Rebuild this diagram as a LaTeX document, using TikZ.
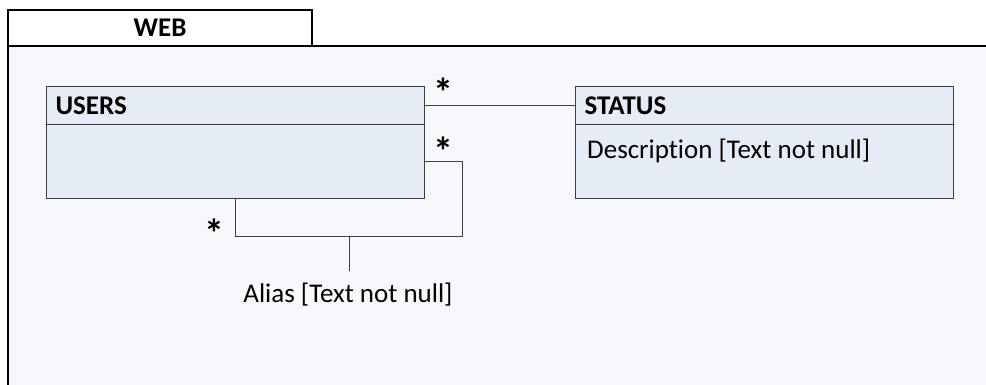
\documentclass[tikz,border=0pt]{standalone}
\usepackage{fontspec}
\setmainfont{Carlito}[Ligatures=NoCommon]
\definecolor{bgc}{HTML}{F6F8FB}
\definecolor{boxfill}{HTML}{E6ECF6}
\definecolor{boxline}{HTML}{3C3C3C}
\definecolor{linec}{HTML}{404040}
\begin{document}
\begin{tikzpicture}[x=1pt,y=-1pt,
  frame/.style={draw=black,line width=2.4pt},
  head/.style={draw=boxline,fill=boxfill,line width=1pt,minimum width=378pt,minimum height=38pt,
     anchor=north west,inner xsep=9pt,text width=360pt,align=left,font=\fontsize{27}{30}\selectfont\bfseries},
  body/.style={draw=boxline,fill=boxfill,line width=1pt,minimum width=378pt,minimum height=74pt,anchor=north west},
  txt/.style={font=\fontsize{27}{30}\selectfont},
  star/.style={font=\fontsize{40}{44}\selectfont\bfseries,inner sep=0pt},
  conn/.style={draw=linec,line width=1pt}]
\useasboundingbox (0,0) rectangle (986,384);
\fill[white] (0,0) rectangle (986,384);
\fill[bgc] (8,46) rectangle (990,390);
\draw[frame] (8,390) -- (8,46) -- (990,46);
\node[frame,fill=white,minimum width=304pt,minimum height=36pt,font=\fontsize{27}{30}\selectfont\bfseries] (tab) at (160,28) {WEB};
% USERS
\node[head] (usershead) at (46,86) {USERS};
\node[body] (usersbody) at (46,124) {};
% STATUS
\node[head] (statushead) at (575,86) {STATUS};
\node[body] (statusbody) at (575,124) {};
\node[txt,anchor=base west,inner sep=0pt] (desc) at (587,158) {Description [Text not null]};
% connectors
\draw[conn] (usershead.east) -- (statushead.west);
\coordinate (lr) at (462,236);
\coordinate (ll) at (235,236);
\coordinate (mid) at (349,236);
\draw[conn] (usersbody.east) -| (lr) -- (ll) -- (usersbody.south -| ll);
\node[txt,anchor=base,inner sep=0pt] (alias) at (348,302) {Alias [Text not null]};
\draw[conn] (mid) -- ([yshift=11pt]alias.north -| mid);
\node[star,anchor=base] (s1) at (443,106) {*};
\node[star,anchor=base] (s2) at (443,165) {*};
\node[star,anchor=base] (s3) at (214,247) {*};
\end{tikzpicture}
\end{document}
